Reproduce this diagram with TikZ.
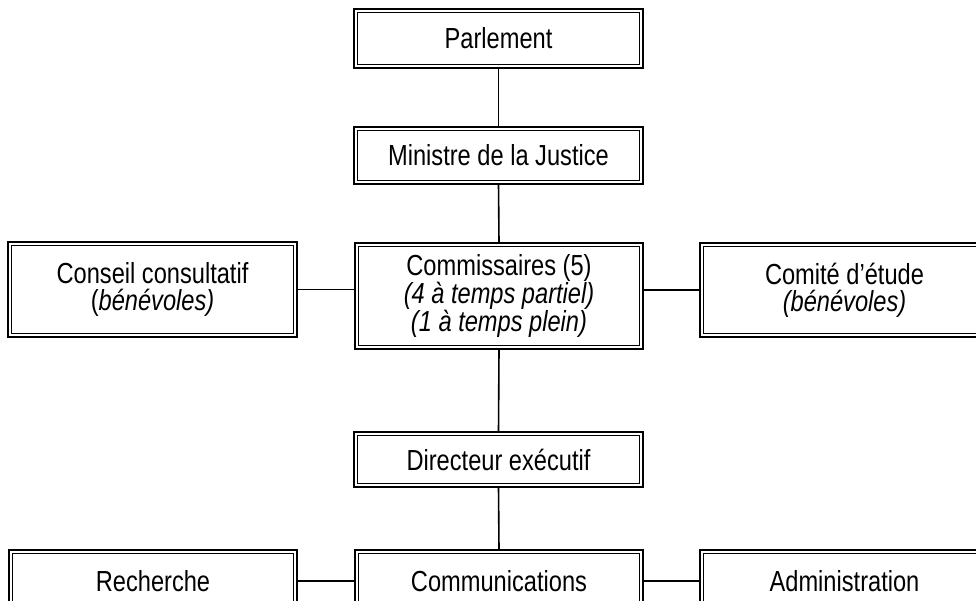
\documentclass[tikz,border=0pt]{standalone}
\usepackage{fontspec}
\setmainfont{Liberation Sans}[FakeStretch=0.815]
\begin{document}
\begin{tikzpicture}[x=1pt,y=1pt,
  dbox/.style={draw, line width=2pt, inner sep=0pt, outer sep=0pt, align=center,
    font=\fontsize{29pt}{27pt}\selectfont,
    path picture={\draw[line width=1pt]
      ([shift={(3.5pt,-3.5pt)}]path picture bounding box.north west) rectangle
      ([shift={(-3.5pt,3.5pt)}]path picture bounding box.south east);}},
  conn/.style={line width=1.6pt}]
\useasboundingbox (0,0) rectangle (976,600);
\clip (0,0) rectangle (976,600);
\node[dbox, minimum width=289pt, minimum height=59pt] (parl) at (498.5,561.5) {Parlement};
\node[dbox, minimum width=289pt, minimum height=57pt] (mini) at (498.5,444.5) {Ministre de la Justice};
\node[dbox, minimum width=289pt, minimum height=95pt] (cons) at (152.5,310.5) {Conseil consultatif\\(\textit{bénévoles)}};
\node[dbox, minimum width=288pt, minimum height=106pt] (comm) at (499,304) {Commissaires (5)\\\textit{(4 à temps partiel)}\\\textit{(1 à temps plein)}};
\node[dbox, minimum width=289pt, minimum height=94pt] (comi) at (844.5,310) {Comité d’étude\\\textit{(bénévoles)}};
\node[dbox, minimum width=289pt, minimum height=55pt] (dir) at (498.5,140.5) {Directeur exécutif};
\node[dbox, minimum width=288pt, minimum height=62pt] (rech) at (153,19) {Recherche};
\node[dbox, minimum width=288pt, minimum height=62pt] (commu) at (499,19) {Communications};
\node[dbox, minimum width=289pt, minimum height=62pt] (admin) at (844.5,19) {Administration};
\draw[conn] (parl.south) -- (mini.north);
\draw[conn] (mini.south) -- (comm.north);
\draw[conn] (cons.east) -- (cons.east -| comm.west);
\draw[conn] (comm.east |- comi.west) -- (comi.west);
\draw[conn] (comm.south) -- (dir.north);
\draw[conn] (dir.south) -- (commu.north);
\draw[conn] (rech.east) -- (commu.west);
\draw[conn] (commu.east) -- (admin.west);
\end{tikzpicture}
\end{document}
